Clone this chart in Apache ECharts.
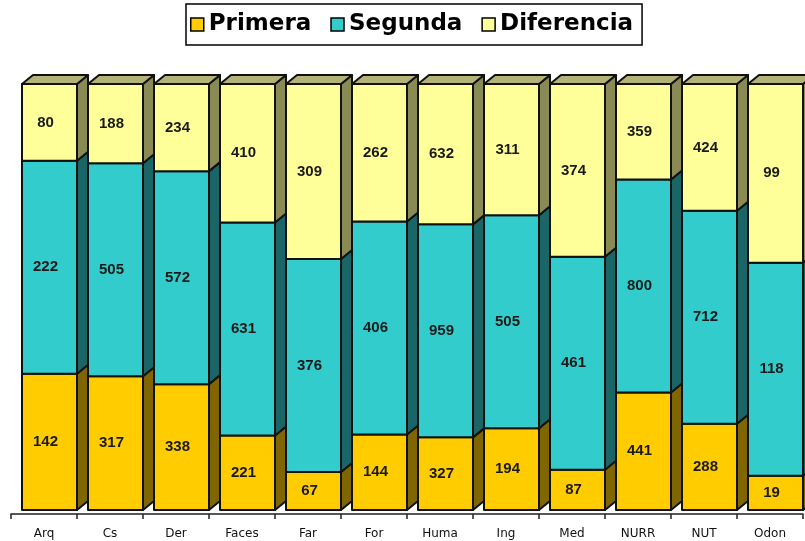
<!DOCTYPE html>
<html>
<head>
<meta charset="utf-8">
<script src="https://cdn.jsdelivr.net/npm/echarts@6/dist/echarts.min.js"></script>
<style>html,body{margin:0;padding:0;background:#fff}#c{width:805px;height:541px}</style>
</head>
<body>
<div id="c"></div>
<script>
const categories = ['Arq','Cs','Der','Faces','Far','For','Huma','Ing','Med','NURR','NUT','Odon'];
const primera    = [142, 317, 338, 221, 67, 144, 327, 194, 87, 441, 288, 19];
const segunda    = [222, 505, 572, 631, 376, 406, 959, 505, 461, 800, 712, 118];
const diferencia = [80, 188, 234, 410, 309, 262, 632, 311, 374, 359, 424, 99];

const seriesNames = ['Primera','Segunda','Diferencia'];
const seriesValues = [primera, segunda, diferencia];
const frontColors = ['#FFCC00','#33CCCC','#FFFF99'];
const sideColors  = ['#806600','#1A6666','#8A8A55'];
const topColor = '#B3B377';

const totals = categories.map((c,i)=>primera[i]+segunda[i]+diferencia[i]);

function buildData(k){
  return categories.map((c,i)=>{
    let start = 0;
    for(let j=0;j<k;j++) start += seriesValues[j][i];
    const end = start + seriesValues[k][i];
    return [i, start/totals[i]*100, end/totals[i]*100, seriesValues[k][i]];
  });
}

function makeRender(k){
  return function(params, api){
    const i = api.value(0);
    const p0 = api.coord([i, api.value(1)]);
    const p1 = api.coord([i, api.value(2)]);
    const bw = api.size([1,0])[0];
    const cx = p0[0];
    const left = cx - bw/2 + bw/6;
    const right = cx + bw/2;
    const dx = 11, dy = 9;
    const yB = p0[1], yT = p1[1];
    const stroke = {stroke:'#111', lineWidth:2, lineJoin:'round'};
    const children = [
      {type:'polygon', shape:{points:[[right,yB],[right+dx,yB-dy],[right+dx,yT-dy],[right,yT]]},
        style:Object.assign({fill:sideColors[k]}, stroke)},
      {type:'rect', shape:{x:left, y:yT, width:right-left, height:yB-yT},
        style:Object.assign({fill:frontColors[k]}, stroke)}
    ];
    if(k===2){
      children.push({type:'polygon', shape:{points:[[left,yT],[left+dx,yT-dy],[right+dx,yT-dy],[right,yT]]},
        style:Object.assign({fill:topColor}, stroke)});
    }
    children.push({type:'text', style:{text:String(api.value(3)), x:(left+right)/2-4, y:(yT+yB)/2,
      align:'center', verticalAlign:'middle', fill:'#1a1a1a',
      font:'bold 15px "Liberation Sans", Arial, sans-serif'}});
    return {type:'group', children};
  };
}

const chart = echarts.init(document.getElementById('c'), null, {renderer:'canvas'});
chart.setOption({
  animation:false,
  backgroundColor:'#fff',
  legend:{
    data:seriesNames,
    left:186, top:4,
    padding:[8,9,8,4],
    itemGap:19,
    itemWidth:13, itemHeight:13,
    icon:'rect',
    borderColor:'#000', borderWidth:1.5,
    itemStyle:{borderColor:'#000', borderWidth:1.5},
    textStyle:{fontSize:23, fontWeight:'bold', color:'#000', fontFamily:'"DejaVu Sans", sans-serif', lineHeight:25}
  },
  grid:{left:11, right:2, top:84, bottom:31, containLabel:false},
  xAxis:{
    type:'category', data:categories, boundaryGap:true, offset:4,
    axisLine:{onZero:false, lineStyle:{color:'#222', width:1.5}},
    axisTick:{show:true, length:5, lineStyle:{color:'#222', width:1.5}},
    axisLabel:{fontSize:12, color:'#111', margin:14, fontFamily:'"DejaVu Sans", sans-serif'},
    splitLine:{show:false}
  },
  yAxis:{type:'value', min:0, max:100, show:false, splitLine:{show:false}},
  series:seriesNames.map((n,k)=>({
    name:n, type:'custom', renderItem:makeRender(k),
    itemStyle:{color:frontColors[k]},
    encode:{x:0, y:[1,2]},
    data:buildData(k), clip:false
  }))
});
</script>
</body>
</html>
